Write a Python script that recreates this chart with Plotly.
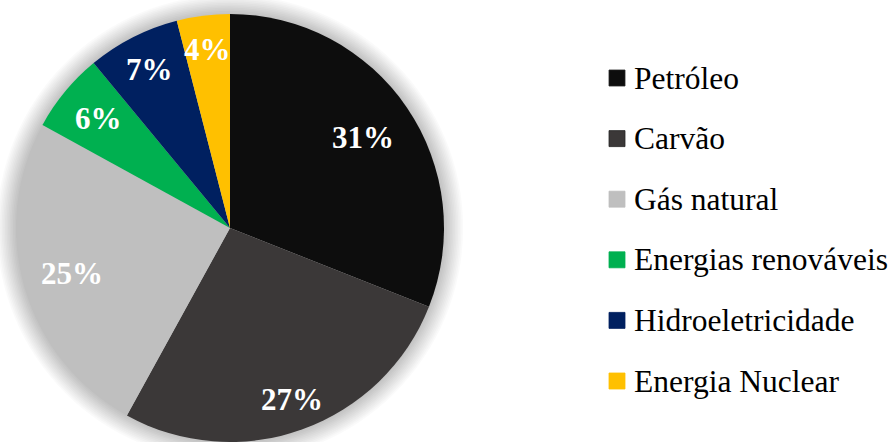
import math
import plotly.graph_objects as go

# Primary energy mix
categories = ["Petróleo", "Carvão", "Gás natural", "Energias renováveis",
              "Hidroeletricidade", "Energia Nuclear"]
shares = [31, 27, 25, 6, 7, 4]
colors = ["#0d0d0d", "#3b3838", "#bfbfbf", "#00b050", "#002060", "#ffc000"]

W, H = 894, 442
CX, CY, R = 230, 228, 214          # pie centre / radius in pixels
label_r = [0.75, 0.85, 0.77, 0.80, 0.83, 0.84]  # radial position of each % label
SERIF = "Liberation Serif"


def fx(x):
    return x / W


def fy(y):
    return 1 - y / H


fig = go.Figure(
    go.Pie(
        labels=categories,
        values=shares,
        sort=False,
        direction="clockwise",
        rotation=0,
        marker=dict(colors=colors, line=dict(width=0)),
        textinfo="none",
        hoverinfo="label+percent",
        showlegend=False,
        domain=dict(x=[fx(CX - R), fx(CX + R)], y=[fy(CY + R), fy(CY - R)]),
    )
)

shapes = []
# soft halo around the pie
for k in range(1, 13):
    rr = R + k * 1.6
    shapes.append(dict(
        type="circle", xref="paper", yref="paper", layer="below",
        x0=fx(CX - rr), x1=fx(CX + rr), y0=fy(CY + rr), y1=fy(CY - rr),
        fillcolor="rgba(0,0,0,0.02)", line=dict(width=0),
    ))

annotations = []
total = sum(shares)
cum = 0
for v, r in zip(shares, label_r):
    mid = (cum + v / 2) / total * 2 * math.pi
    cum += v
    x = CX + r * R * math.sin(mid)
    y = CY - r * R * math.cos(mid)
    annotations.append(dict(
        x=fx(x), y=fy(y), xref="paper", yref="paper", showarrow=False,
        text=f"<b>{round(v / total * 100)}%</b>",
        font=dict(family=SERIF, size=31, color="white"),
        xanchor="center", yanchor="middle",
    ))

# legend column
for i, (name, c) in enumerate(zip(categories, colors)):
    yc = 78 + i * 60.6
    shapes.append(dict(
        type="rect", xref="paper", yref="paper",
        x0=fx(609), x1=fx(625), y0=fy(yc + 8), y1=fy(yc - 8),
        fillcolor=c, line=dict(width=0.8, color="#262626" if i < 2 else c),
    ))
    annotations.append(dict(
        x=fx(632), y=fy(yc), xref="paper", yref="paper", showarrow=False,
        text=name, font=dict(family=SERIF, size=31.5, color="black"),
        xanchor="left", yanchor="middle",
    ))

fig.update_layout(
    width=W, height=H,
    margin=dict(l=0, r=0, t=0, b=0),
    paper_bgcolor="white", plot_bgcolor="white",
    shapes=shapes, annotations=annotations,
    showlegend=False,
)

fig.write_html("out.html")
